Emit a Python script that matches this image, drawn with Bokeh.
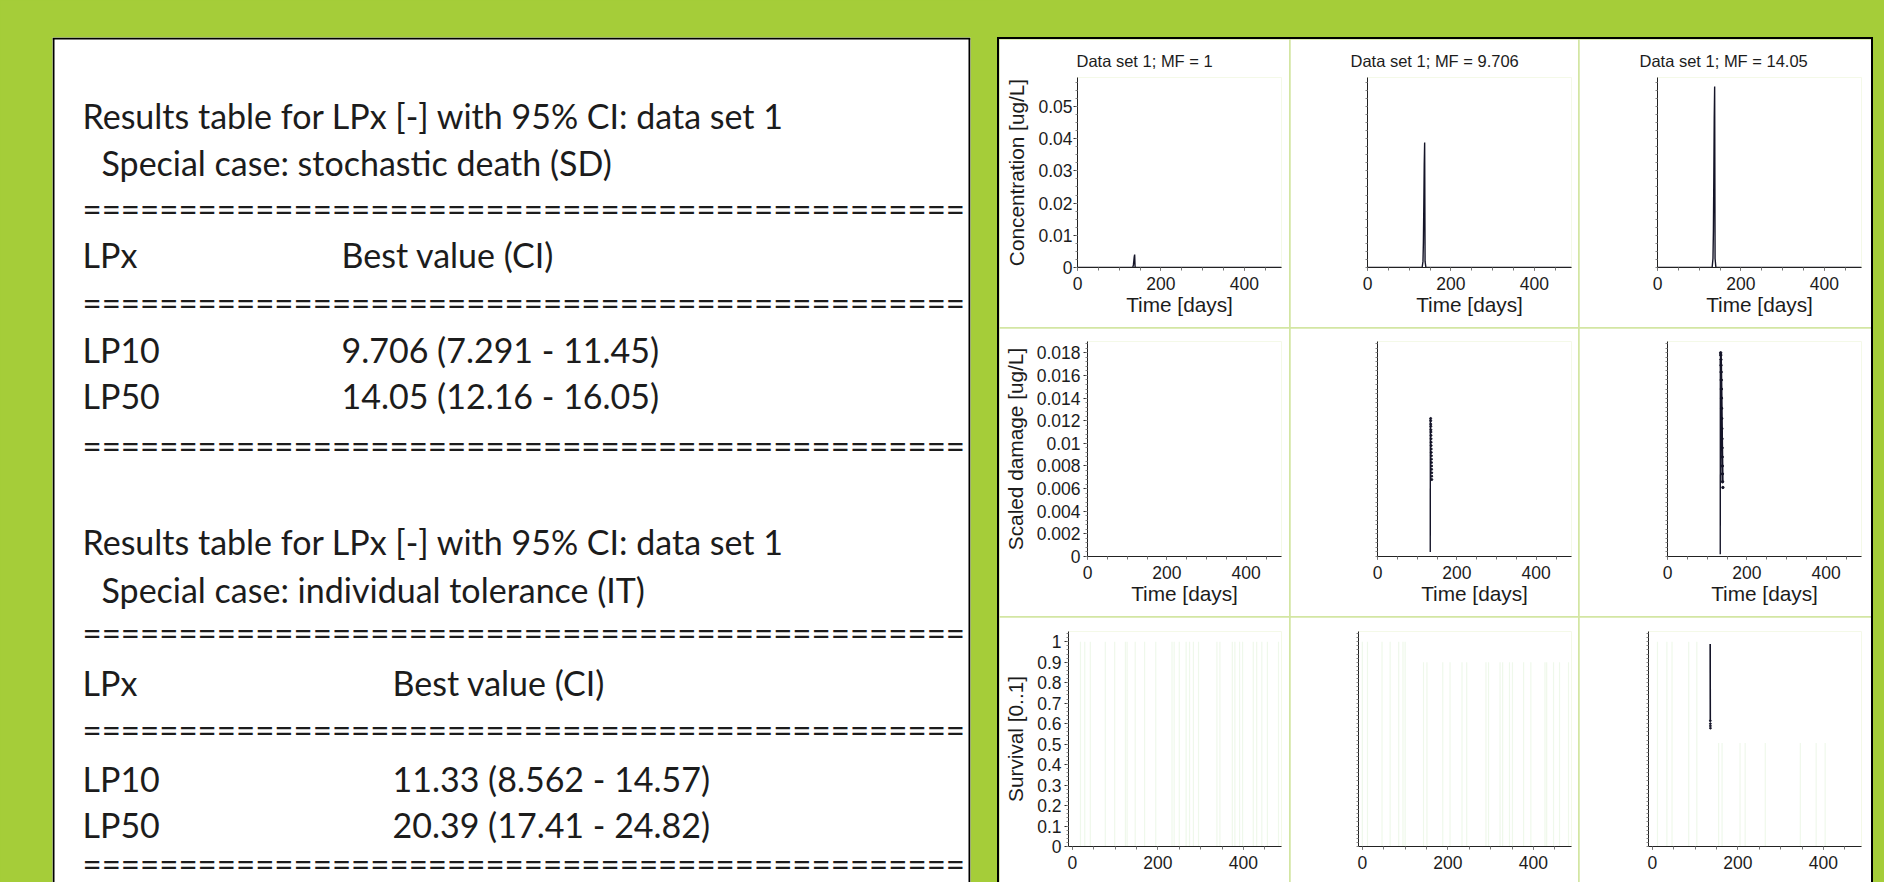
import numpy as np
from bokeh.plotting import figure
from bokeh.layouts import row, column
from bokeh.models import (Range1d, SingleIntervalTicker, FixedTicker,
                          CustomJSTickFormatter, Spacer)
from bokeh.core.properties import value
from bokeh.embed import file_html
from bokeh.resources import INLINE

try:
    from bokeh.models import GlobalInlineStyleSheet
    page_css = [GlobalInlineStyleSheet(css="html, body { background-color: #A5CD39; }")]
except Exception:
    page_css = []

# ---------------- data ----------------
table_title = "Results table for LPx [-] with 95% CI: data set 1"
case_sd = "Special case: stochastic death (SD)"
case_it = "Special case: individual tolerance (IT)"
col_headers = ["LPx", "Best value (CI)"]
lp_labels = ["LP10", "LP50"]
sd_values = ["9.706 (7.291 - 11.45)", "14.05 (12.16 - 16.05)"]
it_values = ["11.33 (8.562 - 14.57)", "20.39 (17.41 - 24.82)"]
rule = "=" * 46

panel_titles = ["Data set 1; MF = 1", "Data set 1; MF = 9.706", "Data set 1; MF = 14.05"]
row_ylabels = ["Concentration [ug/L]", "Scaled damage [ug/L]", "Survival [0..1]"]
x_label = "Time [days]"

# concentration (row 1)
conc_time = [0, 131, 133, 134, 135, 136, 137, 138, 140, 489]
conc_mf_1 = [0, 0, 0.0002, 0.0008, 0.0020, 0.0033, 0.0040, 0.0002, 0, 0]
conc_mf_9706 = [0, 0, 0.0019, 0.0078, 0.0194, 0.0320, 0.0388, 0.0019, 0, 0]
conc_mf_1405 = [0, 0, 0.0028, 0.0112, 0.0281, 0.0464, 0.0562, 0.0028, 0, 0]

# scaled damage (row 2)
dmg_rise_time = [133.0, 133.2]
dmg_rise_mf_9706 = [0.0004, 0.0122]
dmg_rise_mf_1405 = [0.0002, 0.0173]
dmg_decay_time_mf_9706 = [134.0, 134.15, 134.3, 134.45, 134.6, 134.75, 134.9, 135.05, 135.2,
                          135.35, 135.5, 135.65, 135.8, 135.95, 136.1, 136.25, 136.4,
                          136.55, 136.7, 136.85]
dmg_decay_mf_9706 = [0.0122, 0.0120, 0.0117, 0.0115, 0.0112, 0.0110, 0.0107, 0.0104, 0.0101,
                     0.0098, 0.0095, 0.0092, 0.0089, 0.0086, 0.0083, 0.0080, 0.0077,
                     0.0074, 0.0071, 0.0068]
dmg_decay_time_mf_1405 = [134.0, 134.3, 134.6, 134.9, 135.2, 135.5, 135.8, 136.1, 136.4,
                          136.7, 137.0, 137.3, 137.6, 137.9, 138.2, 138.5, 138.8, 139.6]
dmg_decay_mf_1405 = [0.0180, 0.0178, 0.0174, 0.0169, 0.0163, 0.0156, 0.0148, 0.0140, 0.0131,
                     0.0122, 0.0113, 0.0104, 0.0096, 0.0088, 0.0080, 0.0073, 0.0066, 0.0061]

# survival (row 3)
surv_time_mf_1405 = [135.2, 135.3, 135.4, 135.5, 135.6, 135.7, 135.8]
surv_mf_1405 = [0.989, 0.85, 0.72, 0.614, 0.600, 0.589, 0.578]
ci_time_mf_1 = [19, 29, 42, 77, 99, 124, 128, 147, 169, 195, 233, 238, 250, 266, 274,
                283, 295, 338, 345, 374, 380, 391, 398, 423, 431, 443, 456, 482]
ci_upper_mf_1 = [1.0] * 28
ci_time_mf_9706 = [0, 12, 46, 65, 85, 95, 100, 143, 151, 188, 205, 233, 244, 289, 295,
                   322, 328, 344, 351, 377, 394, 427, 431, 447, 461, 482]
ci_upper_mf_9706 = [1.0, 1.0, 1.0, 1.0, 1.0, 1.0, 1.0, 0.9, 0.9, 0.9, 0.9, 0.9, 0.9,
                    0.9, 0.9, 0.9, 0.9, 0.9, 0.9, 0.9, 0.9, 0.9, 0.9, 0.9, 0.9, 0.9]
ci_time_mf_1405 = [12, 34, 46, 85, 104, 155, 163, 205, 217, 264, 346, 383, 404]
ci_upper_mf_1405 = [1.0, 1.0, 1.0, 1.0, 1.0, 0.505, 0.505, 0.505, 0.505, 0.505, 0.505,
                    0.505, 0.505]

# ---------------- styling ----------------
GREEN = "#A5CD39"
SEP = "#D3E6A3"
FAINT = "#EFF8EB"
INK = "#141428"
TXT = "#1c1c1c"
SANS = "Liberation Sans"
PAGE = 0
PAGE_W, PAGE_H = 1884, 882

# ---------------- left: results tables ----------------
LW, LH = 997, PAGE_H
bx_l, bx_r, bx_t = 52, 970, 37
left = figure(width=LW, height=LH, x_range=Range1d(bx_l, bx_r),
              y_range=Range1d(PAGE + LH, bx_t),
              x_axis_location=None, y_axis_location=None,
              toolbar_location=None, output_backend="svg",
              min_border_left=bx_l - PAGE, min_border_right=PAGE + LW - bx_r,
              min_border_top=bx_t - PAGE, min_border_bottom=0)
left.grid.visible = False
left.outline_line_color = None
left.background_fill_color = "white"
left.border_fill_color = GREEN

tx = [82, 101, 82, 341, 82, 341, 82, 341,
      82, 101, 82, 392, 82, 392, 82, 392]
ty = [115, 162, 254, 254, 349, 349, 395, 395,
      541, 589, 682, 682, 778, 778, 824, 824]
tt = [table_title, case_sd, col_headers[0], col_headers[1],
      lp_labels[0], sd_values[0], lp_labels[1], sd_values[1],
      table_title, case_it, col_headers[0], col_headers[1],
      lp_labels[0], it_values[0], lp_labels[1], it_values[1]]
left.text(x=tx, y=ty, text=tt, text_font=value("Lato"), text_font_size="34px",
          text_baseline="middle", text_align="left", text_color=TXT)
rule_y = [207, 301, 444, 631, 728, 862]
left.text(x=[82] * len(rule_y), y=rule_y, text=[rule] * len(rule_y),
          text_font=value("Lato"), text_font_size="33.1px",
          text_baseline="middle", text_align="left", text_color=TXT)
left.multi_line(xs=[[53, 53], [52, 970], [969, 969]],
                ys=[[890, 38], [38, 38], [38, 890]], line_color="black", line_width=2)

# ---------------- right: 3x3 model plots ----------------
col_w = [290, 288, 292]
row_h = [288, 288, PAGE_H - 617]
frame_left = [[78, 77, 78], [88, 87, 88], [69, 68, 69]]
frame_right_pad = [8, 7, 10]
frame_top = [38, 13, 14]
frame_bottom_pad = [60, 60, row_h[2] - 229]
y_ranges = [(0, 0.059), (0, 0.019), (0, 1.05)]
y_intervals = [0.01, 0.002, 0.1]
y_minor = [4, 5, 5]
x_ranges = [(0, 489), (0, 489), (-9, 489)]
label_standoff = [1, 3, 3]
title_offsets = [-1, -17, -18]

fmt_code = "return String(Math.round(tick * 1000000) / 1000000);"


def make_cell(r, c):
    p = figure(width=col_w[c], height=row_h[r],
               x_range=Range1d(*x_ranges[r]), y_range=Range1d(*y_ranges[r]),
               toolbar_location=None, output_backend="svg",
               min_border_left=frame_left[r][c], min_border_right=frame_right_pad[c],
               min_border_top=frame_top[r], min_border_bottom=frame_bottom_pad[r])
    p.grid.visible = False
    p.outline_line_color = None
    p.background_fill_color = "white"
    p.border_fill_color = "white"

    xa = p.xaxis[0]
    xa.ticker = SingleIntervalTicker(interval=200, num_minor_ticks=4)
    xa.formatter = CustomJSTickFormatter(code=fmt_code)
    xa.major_tick_out = 3
    xa.major_tick_in = 0
    xa.minor_tick_out = 3
    xa.minor_tick_in = 0
    xa.axis_line_color = "#222222"
    xa.major_tick_line_color = "#333333"
    xa.minor_tick_line_color = "#777777"
    xa.major_label_text_font = SANS
    xa.major_label_text_font_size = "17.5px"
    xa.major_label_text_color = TXT
    xa.major_label_standoff = 6
    if r < 2:
        xa.axis_label = x_label
        xa.axis_label_text_font = SANS
        xa.axis_label_text_font_size = "20.8px"
        xa.axis_label_text_font_style = "normal"
        xa.axis_label_text_color = TXT
        xa.axis_label_standoff = 0

    ya = p.yaxis[0]
    if c == 0:
        ya.ticker = SingleIntervalTicker(interval=y_intervals[r], num_minor_ticks=y_minor[r])
        ya.formatter = CustomJSTickFormatter(code=fmt_code)
        ya.axis_label = row_ylabels[r]
        ya.axis_label_text_font = SANS
        ya.axis_label_text_font_size = "20.8px"
        ya.axis_label_text_font_style = "normal"
        ya.axis_label_text_color = TXT
        ya.axis_label_standoff = 7
    else:
        step = y_intervals[r] / y_minor[r]
        n = int(y_ranges[r][1] / step + 1e-9)
        ya.ticker = FixedTicker(ticks=[], minor_ticks=[round(i * step, 8) for i in range(n + 1)])
    ya.major_label_text_font = SANS
    ya.major_label_text_font_size = "17.5px"
    ya.major_label_text_color = TXT
    ya.major_label_standoff = label_standoff[r]
    ya.major_tick_out = 4
    ya.major_tick_in = 0
    ya.minor_tick_out = 2
    ya.minor_tick_in = 0
    ya.axis_line_color = "#222222"
    ya.major_tick_line_color = "#333333"
    ya.minor_tick_line_color = "#888888"

    if r == 0:
        p.title.text = panel_titles[c]
        p.title.align = "left"
        p.title.offset = title_offsets[c]
        p.title.text_font = SANS
        p.title.text_font_size = "16.5px"
        p.title.text_font_style = "normal"
        p.title.text_color = TXT
        p.title.standoff = 16
    return p


cells = [[make_cell(r, c) for c in range(3)] for r in range(3)]

# row 1: concentration
for c, conc in enumerate([conc_mf_1, conc_mf_9706, conc_mf_1405]):
    cells[0][c].line(conc_time, conc, line_color=INK, line_width=1.4)

# row 2: scaled damage
cells[1][1].line(dmg_rise_time, dmg_rise_mf_9706, line_color=INK, line_width=1.4)
cells[1][1].scatter(dmg_decay_time_mf_9706, dmg_decay_mf_9706, size=2.0,
                    fill_color=INK, line_color=INK)
cells[1][2].line(dmg_rise_time, dmg_rise_mf_1405, line_color=INK, line_width=1.4)
cells[1][2].line(dmg_decay_time_mf_1405[:-1], dmg_decay_mf_1405[:-1], line_color=INK,
                 line_width=2.2)
cells[1][2].scatter(dmg_decay_time_mf_1405, dmg_decay_mf_1405, size=2.4,
                    fill_color=INK, line_color=INK)

# row 3: survival
for c, (cx, cu) in enumerate([(ci_time_mf_1, ci_upper_mf_1),
                              (ci_time_mf_9706, ci_upper_mf_9706),
                              (ci_time_mf_1405, ci_upper_mf_1405)]):
    cells[2][c].segment(x0=cx, y0=[0] * len(cx), x1=cx, y1=cu,
                        line_color=FAINT, line_width=1.2)
cells[2][2].line(surv_time_mf_1405[:4], surv_mf_1405[:4], line_color=INK, line_width=1.6)
cells[2][2].scatter(surv_time_mf_1405[3:], surv_mf_1405[3:], size=1.8,
                    fill_color=INK, line_color=INK)

grid_rows = [row(*cells[r], spacing=1) for r in range(3)]
inner = column(*grid_rows, spacing=1, styles={"background-color": SEP})
inner_w = sum(col_w) + 2
inner_h = sum(row_h) + 2
bordered = row(Spacer(width=2, height=inner_h + 2),
               column(Spacer(width=inner_w, height=2), inner),
               Spacer(width=2, height=inner_h + 2),
               styles={"background-color": "black"})
right = column(Spacer(width=inner_w + 4, height=37), bordered)

page = row(left, right, styles={"background-color": GREEN}, stylesheets=page_css)

open("out.html", "w").write(file_html(page, INLINE))
